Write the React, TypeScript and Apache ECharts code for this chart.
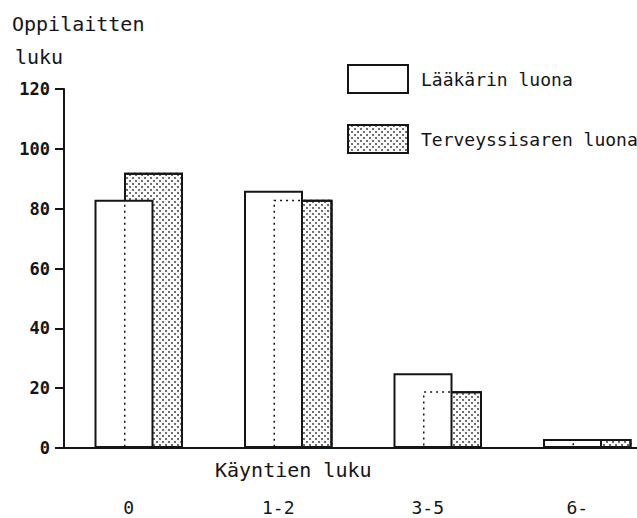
import React, { useEffect, useRef } from "react";
import * as echarts from "echarts";

const categories = ["0", "1-2", "3-5", "6-"];
const laakarinValues = [83, 86, 25, 3];
const terveyssisarenValues = [92, 83, 19, 3];
const seriesNames = ["Lääkärin luona", "Terveyssisaren luona"];
const yAxisTitleLines = ["Oppilaitten", "luku"];
const xAxisTitle = "Käyntien luku";

const MONO = "'DejaVu Sans Mono', 'Liberation Mono', monospace";
const INK = "#151515";

export default function App() {
  const ref = useRef<HTMLDivElement>(null);

  useEffect(() => {
    document.body.style.margin = "0";
    document.body.style.overflow = "hidden";
    const chart = echarts.init(ref.current!, null, { renderer: "svg" });
    const barWidth = 59;
    const dotDecal = {
      symbol: "circle",
      symbolSize: 0.8,
      color: "#222",
      backgroundColor: "#fafafa",
      dashArrayX: [
        [2, 4],
        [0, 3, 2, 1],
      ],
      dashArrayY: [2, 1],
      rotation: 0,
    };
    chart.setOption({
      animation: false,
      backgroundColor: "#fff",
      grid: { left: 64, top: 89, right: 0, height: 359, containLabel: false },
      legend: {
        data: seriesNames,
        orient: "vertical",
        left: 342,
        top: 59,
        itemWidth: 60,
        itemHeight: 28,
        itemGap: 30,
        icon: "rect",
        selectedMode: false,
        textStyle: {
          fontFamily: MONO,
          fontSize: 18,
          color: INK,
          padding: [5, 0, 0, 8],
        },
      },
      xAxis: [
        {
          type: "category",
          data: categories,
          axisLine: { lineStyle: { color: INK, width: 2 } },
          axisTick: { show: false },
          axisLabel: {
            fontFamily: MONO,
            fontSize: 18,
            color: INK,
            margin: 50,
            padding: [0, 20, 0, 0],
          },
        },
        {
          type: "category",
          data: categories,
          gridIndex: 0,
          show: false,
        },
      ],
      yAxis: {
        type: "value",
        min: 0,
        max: 120,
        interval: 20,
        axisLine: { show: true, lineStyle: { color: INK, width: 2 } },
        axisTick: { show: true, length: 9, lineStyle: { color: INK, width: 2 } },
        splitLine: { show: false },
        axisLabel: {
          fontFamily: MONO,
          fontSize: 17,
          fontWeight: "bold",
          color: INK,
          margin: 14,
        },
      },
      graphic: [
        {
          type: "text",
          left: 12,
          top: 14,
          style: { text: yAxisTitleLines[0], font: `20px ${MONO}`, fill: INK },
        },
        {
          type: "text",
          left: 15,
          top: 47,
          style: { text: yAxisTitleLines[1], font: `20px ${MONO}`, fill: INK },
        },
        {
          type: "text",
          left: 215,
          top: 460,
          style: { text: xAxisTitle, font: `20px ${MONO}`, fill: INK },
        },
      ],
      series: [
        {
          name: seriesNames[0],
          type: "bar",
          data: laakarinValues,
          barWidth,
          barGap: "-50%",
          z: 3,
          itemStyle: { color: "#fff", borderColor: INK, borderWidth: 2 },
        },
        {
          name: seriesNames[1],
          type: "bar",
          data: terveyssisarenValues,
          barWidth,
          barGap: "-50%",
          z: 2,
          itemStyle: {
            color: "#fafafa",
            borderColor: INK,
            borderWidth: 2,
            decal: dotDecal,
          },
        },
        {
          name: "_spacer",
          type: "bar",
          xAxisIndex: 1,
          data: categories.map(() => "-"),
          barWidth,
          barGap: "-50%",
          silent: true,
        },
        {
          name: "_hidden",
          type: "bar",
          xAxisIndex: 1,
          data: terveyssisarenValues,
          barWidth,
          barGap: "-50%",
          z: 4,
          silent: true,
          itemStyle: {
            color: "rgba(0,0,0,0)",
            borderColor: INK,
            borderWidth: 1.5,
            borderType: [2, 4],
          },
        },
      ],
    });
    return () => chart.dispose();
  }, []);

  return <div ref={ref} style={{ width: 662, height: 518 }} />;
}
